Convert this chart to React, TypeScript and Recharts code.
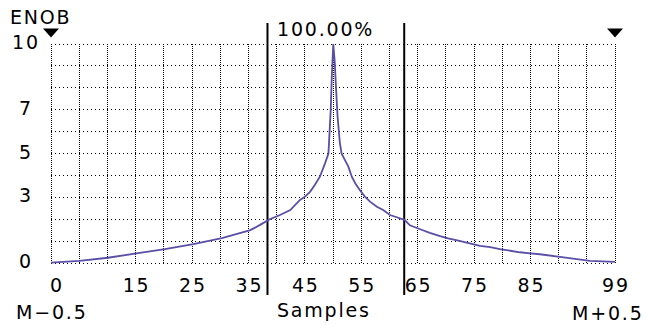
import { LineChart, Line, XAxis, YAxis, CartesianGrid, ReferenceLine, ReferenceDot } from 'recharts';

// ENOB curve (sample position, ENOB)
const sampleX = [
  0, 5, 10, 15, 20, 25, 30, 35, 36.7, 38.4, 40.2, 42, 43.7, 44.6, 45.5, 46.3, 47.2, 48.1, 48.7, 48.9,
  49.1, 49.3, 49.55, 49.8, 50.05, 50.3, 50.7, 51, 51.6, 52.2, 52.8, 53.4, 54.2, 55.1, 56, 57.2, 58.3,
  59.5, 60.7, 62.1, 63, 64.8, 66.5, 68.3, 69.7, 71.5, 73.5, 75.3, 77.1, 78.8, 80.6, 82.3, 84.1, 85.8,
  90, 94.6, 99,
];
const enobY = [
  0.02, 0.1, 0.24, 0.44, 0.63, 0.86, 1.14, 1.5, 1.74, 2.0, 2.19, 2.42, 2.88, 3.03, 3.26, 3.56, 3.94, 4.55, 5.0, 6.0,
  7.0, 8.6, 10, 9.2, 7.9, 6.7, 5.5, 5.0, 4.7, 4.4, 3.94, 3.64, 3.33, 3.03, 2.8, 2.57, 2.42,
  2.19, 2.09, 1.96, 1.72, 1.54, 1.38, 1.23, 1.13, 1.02, 0.9, 0.78, 0.72, 0.63, 0.56, 0.49, 0.44, 0.4,
  0.26, 0.1, 0.05,
];

const yGrid = [0, 1, 2, 3, 4, 5, 6, 7, 8, 9, 10];
const yLabels = [0, 3, 5, 7, 10];

const X_MAX = 99;
const X_DIVS = 20;
const xGrid = Array.from({ length: X_DIVS + 1 }, (_, i) => (i * X_MAX) / X_DIVS);
const xLabelDiv = [0, 3, 5, 7, 9, 11, 13, 15, 17, 20];
const xLabels = ['0', '15', '25', '35', '45', '55', '65', '75', '85', '99'];

const markers = [38, 62];
const arrows = [0, 99];

const data = sampleX.map((x, i) => ({ x, enob: enobY[i] }));

const FONT = '"DejaVu Sans", sans-serif';
const textStyle = { fontFamily: FONT, fontSize: 19, letterSpacing: 1.8 };

function XTick({ x, y, payload }: any) {
  const div = Math.round((payload.value * X_DIVS) / X_MAX);
  const k = xLabelDiv.indexOf(div);
  if (k < 0) return <g />;
  return (
    <text x={div === 0 ? x - 1 : x + 1} y={y + 21} textAnchor={div === 0 ? 'start' : 'middle'} fill="#000" style={textStyle}>
      {xLabels[k]}
    </text>
  );
}

function YTick({ x, y, payload }: any) {
  if (!yLabels.includes(payload.value)) return <g />;
  return (
    <text x={x - 17} y={y + 5} textAnchor="middle" fill="#000" style={textStyle}>
      {payload.value}
    </text>
  );
}

function Arrow({ cx, cy }: any) {
  return <polygon points={`${cx - 8},${cy - 4.5} ${cx + 8},${cy - 4.5} ${cx},${cy + 4.5}`} fill="#000" />;
}

export default function App() {
  return (
    <div style={{ position: 'absolute', left: 0, top: 0, width: 646, height: 326, background: '#fff' }}>
      <LineChart width={646} height={326} data={data} margin={{ top: 44, right: 31, bottom: 33, left: 12 }}>
        <CartesianGrid horizontal={false} stroke="#000" strokeDasharray="1 1" shapeRendering="crispEdges" />
        <CartesianGrid vertical={false} stroke="#000" strokeDasharray="1 3" shapeRendering="crispEdges" />
        <XAxis
          type="number"
          dataKey="x"
          domain={[0, X_MAX]}
          ticks={xGrid}
          interval={0}
          height={30}
          axisLine={false}
          tickLine={false}
          tick={<XTick />}
        />
        <YAxis
          type="number"
          domain={[0, 10]}
          ticks={yGrid}
          interval={0}
          width={39}
          axisLine={false}
          tickLine={false}
          tick={<YTick />}
        />
        {markers.map((m) => (
          <ReferenceLine
            key={m}
            segment={[{ x: m, y: 10.96 }, { x: m, y: -1.46 }]}
            ifOverflow="visible"
            stroke="#000"
            strokeWidth={2}
          />
        ))}
        {arrows.map((a) => (
          <ReferenceDot key={a} x={a} y={10.5} ifOverflow="visible" shape={<Arrow />} />
        ))}
        <Line
          type="linear"
          dataKey="enob"
          stroke="#5a4fa6"
          strokeWidth={1.8}
          dot={false}
          isAnimationActive={false}
        />
      </LineChart>
      <svg width={646} height={326} style={{ position: 'absolute', left: 0, top: 0, pointerEvents: 'none' }}>
        <text x={10} y={24} fill="#000" style={textStyle}>ENOB</text>
        <text x={277} y={36} fill="#000" style={textStyle}>100.00%</text>
        <text x={16} y={319} fill="#000" style={textStyle}>M−0.5</text>
        <text x={277} y={317} fill="#000" style={textStyle}>Samples</text>
        <text x={572} y={320} fill="#000" style={textStyle}>M+0.5</text>
      </svg>
    </div>
  );
}
